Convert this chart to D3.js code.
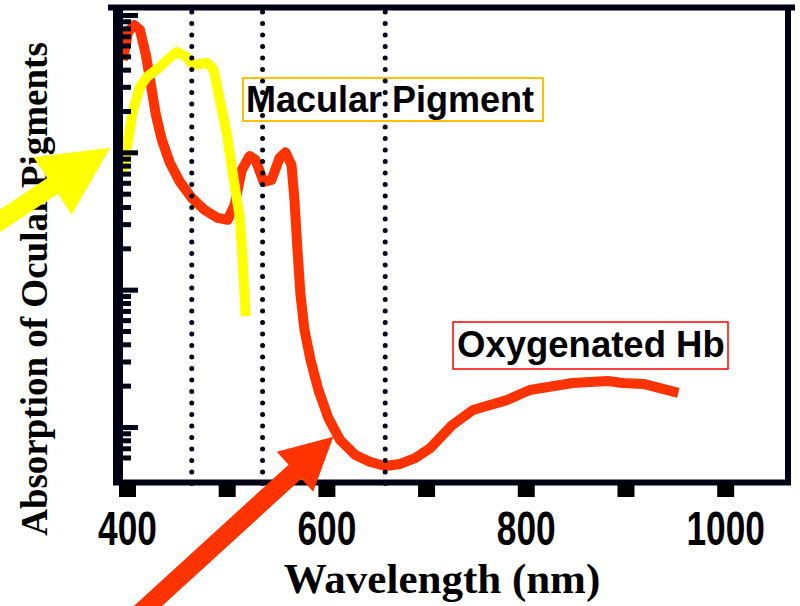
<!DOCTYPE html>
<html>
<head>
<meta charset="utf-8">
<script src="https://cdn.jsdelivr.net/npm/d3@7"></script>
<style>
body { margin: 0; background: #fff; }
svg { display: block; }
</style>
</head>
<body>
<svg id="chart" width="800" height="606"></svg>
<script>
// oxygenated haemoglobin absorption (nm, arbitrary units on a log axis)
const hbWavelength = [396, 401, 407, 413, 419, 424, 429, 435, 443, 453, 465, 478, 491, 501, 508, 515, 523, 529, 537, 545, 553, 559, 565, 568, 571, 574, 578, 584, 592, 602, 614, 629, 644, 659, 674, 689, 704, 726, 747, 781, 804, 847, 882, 897, 918, 953];
const hbAbsorption = [470, 750, 846, 780, 510, 310, 187, 123, 84, 61, 46.5, 38, 33.3, 32.2, 41.4, 74, 94, 88, 61, 63, 91, 100, 81, 45, 19.5, 9.2, 5.1, 3.1, 1.86, 1.16, 0.80, 0.625, 0.556, 0.52, 0.538, 0.594, 0.70, 1.03, 1.33, 1.57, 1.86, 2.09, 2.16, 2.09, 2.06, 1.77];

// macular pigment absorption
const mpWavelength = [396, 401, 406, 413, 420, 433, 440, 450, 460, 466, 473, 481, 487, 493, 500, 506, 513, 516, 519];
const mpAbsorption = [72, 123, 203, 299, 354, 418, 470, 538, 495, 433, 440, 448, 398, 241, 138, 71, 34, 16.4, 6.4];

// dotted vertical marker lines (nm)
const markerLines = [465, 536, 659];

// x axis ticks and labels
const xTicks = [400, 500, 600, 700, 800, 900, 1000];
const xTickLabels = ["400", "", "600", "", "800", "", "1000"];
const yMajorTicks = [1, 10, 100, 1000];

const sans = "'Liberation Sans', Arial, sans-serif";
const serif = "'Liberation Serif', 'Times New Roman', serif";
const ink = "#000014";

const svg = d3.select("#chart");

const x = d3.scaleLinear().domain([391, 1063]).range([118, 788]);
const y = d3.scaleLog().domain([0.391, 1134]).range([483, 7.5]);

const line = d3.line()
  .x(d => x(d[0]))
  .y(d => y(d[1]));

// curves
svg.append("path")
  .datum(d3.zip(hbWavelength, hbAbsorption))
  .attr("d", line)
  .attr("fill", "none")
  .attr("stroke", "#ff3300")
  .attr("stroke-width", 10)
  .attr("stroke-linejoin", "round");

svg.append("path")
  .datum(d3.zip(mpWavelength, mpAbsorption))
  .attr("d", line)
  .attr("fill", "none")
  .attr("stroke", "#ffff00")
  .attr("stroke-width", 10)
  .attr("stroke-linejoin", "round");

// labels in boxes
const labels = svg.append("g");
labels.append("rect")
  .attr("x", 243).attr("y", 78).attr("width", 300).attr("height", 43)
  .attr("fill", "none").attr("stroke", "#ffc000").attr("stroke-width", 2);
labels.append("text")
  .attr("x", 246).attr("y", 112)
  .attr("font-family", sans).attr("font-weight", "bold").attr("font-size", 36)
  .text("Macular Pigment");
labels.append("rect")
  .attr("x", 453).attr("y", 322).attr("width", 275).attr("height", 47)
  .attr("fill", "none").attr("stroke", "#ff0000").attr("stroke-width", 1.5);
labels.append("text")
  .attr("x", 457).attr("y", 357)
  .attr("font-family", sans).attr("font-weight", "bold").attr("font-size", 36.5)
  .text("Oxygenated Hb");

// dotted marker lines
svg.append("g")
  .selectAll("line")
  .data(markerLines)
  .join("line")
  .attr("x1", d => x(d)).attr("x2", d => x(d))
  .attr("y1", 12).attr("y2", 490)
  .attr("stroke", ink)
  .attr("stroke-width", 5)
  .attr("stroke-linecap", "round")
  .attr("stroke-dasharray", "0 11.5");

// frame
const frame = svg.append("g").attr("stroke", ink);
frame.append("line").attr("x1", 108).attr("x2", 795).attr("y1", 7.5).attr("y2", 7.5).attr("stroke-width", 6);
frame.append("line").attr("x1", 788).attr("x2", 788).attr("y1", 7.5).attr("y2", 485).attr("stroke-width", 6);
frame.append("line").attr("x1", 113).attr("x2", 791).attr("y1", 482.5).attr("y2", 482.5).attr("stroke-width", 6);
frame.append("line").attr("x1", 118).attr("x2", 118).attr("y1", 5).attr("y2", 485).attr("stroke-width", 10);

// x axis
const xAxis = svg.append("g")
  .attr("transform", "translate(0,483)")
  .call(d3.axisBottom(x).tickValues(xTicks).tickSize(14).tickFormat((d, i) => xTickLabels[i]));
xAxis.select(".domain").remove();
xAxis.selectAll(".tick line").attr("stroke", "#000").attr("stroke-width", 17);
xAxis.selectAll(".tick text")
  .attr("y", 62).attr("dy", null)
  .attr("transform", "scale(0.72,1)")
  .attr("fill", "#000")
  .attr("font-family", sans).attr("font-weight", "bold").attr("font-size", 49);

// y axis, log ticks pointing inward
const minorTicks = y.ticks().filter(v => v >= 0.6 && !yMajorTicks.includes(v));
const yMinor = svg.append("g")
  .attr("transform", "translate(123,0)")
  .call(d3.axisRight(y).tickValues(minorTicks).tickSize(8).tickFormat(""));
const yMajor = svg.append("g")
  .attr("transform", "translate(123,0)")
  .call(d3.axisRight(y).tickValues(yMajorTicks).tickSize(15).tickFormat(""));
[yMinor, yMajor].forEach(g => {
  g.select(".domain").remove();
  g.selectAll(".tick line").attr("stroke", ink).attr("stroke-width", 5);
});

// axis titles
svg.append("text")
  .attr("x", 442).attr("y", 593)
  .attr("text-anchor", "middle")
  .attr("font-family", serif).attr("font-weight", "bold").attr("font-size", 43)
  .text("Wavelength (nm)");
svg.append("text")
  .attr("transform", "translate(47,289) rotate(-90)")
  .attr("text-anchor", "middle")
  .attr("font-family", serif).attr("font-weight", "bold").attr("font-size", 37)
  .text("Absorption of Ocular Pigments");

// block arrows pointing at the curves
function arrow(tip, angle, len, headLen, headHalf, shaftHalf, color) {
  const pts = [[0, 0], [-headLen, -headHalf], [-headLen, -shaftHalf], [-len, -shaftHalf],
               [-len, shaftHalf], [-headLen, shaftHalf], [-headLen, headHalf]];
  svg.append("polygon")
    .attr("points", pts.map(p => p.join(",")).join(" "))
    .attr("transform", `translate(${x(tip[0])},${y(tip[1])}) rotate(${angle})`)
    .attr("fill", color);
}
arrow([383, 108], -33.6, 170, 69, 34.5, 9.5, "#ffff00");
arrow([607, 0.85], -42.4, 270, 52, 27, 9.5, "#ff3300");
</script>
</body>
</html>
